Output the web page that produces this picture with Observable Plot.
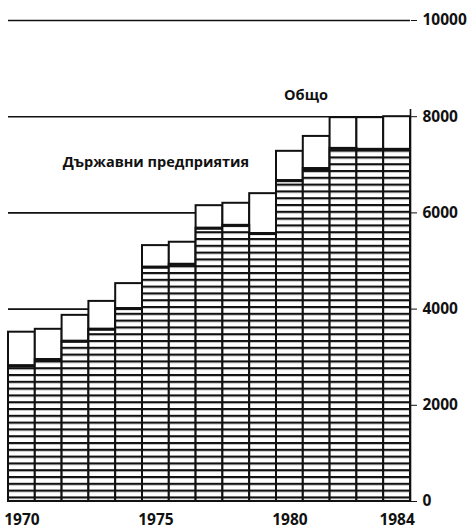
<!DOCTYPE html>
<html>
<head>
<meta charset="utf-8">
<script src="https://cdn.jsdelivr.net/npm/d3@7"></script>
<script src="https://cdn.jsdelivr.net/npm/@observablehq/plot@0.6"></script>
<style>
  html, body { margin: 0; padding: 0; background: #fff; }
  #chart svg { display: block; }
</style>
</head>
<body>
<div id="chart"></div>
<script>
const years = [1970, 1971, 1972, 1973, 1974, 1975, 1976, 1977, 1978, 1979, 1980, 1981, 1982, 1983, 1984];
const totalValues = [3520, 3580, 3870, 4160, 4530, 5320, 5390, 6150, 6200, 6400, 7280, 7590, 7980, 7980, 8000];
const stateValues = [2820, 2950, 3330, 3580, 4010, 4870, 4930, 5680, 5740, 5570, 6670, 6920, 7340, 7320, 7320];
const yTicks = [0, 2000, 4000, 6000, 8000, 10000];
const gridValues = [4000, 6000, 8000, 10000];
const yearLabels = [1970, 1975, 1980, 1984];
const labelTotal = "Общо";
const labelState = "Държавни предприятия";

const data = years.map((year, i) => ({year, total: totalValues[i], state: stateValues[i]}));
const font = "'Open Sans', 'Liberation Sans', Arial, sans-serif";

const chart = Plot.plot({
  width: 467,
  height: 529,
  marginLeft: 8,
  marginRight: 57,
  marginTop: 20,
  marginBottom: 28,
  style: {fontFamily: font, fontSize: "15px", fontWeight: 700, color: "#111", background: "#fff"},
  x: {domain: [1969.5, 1984.5]},
  y: {domain: [0, 10000]},
  marks: [
    Plot.ruleY(gridValues, {stroke: "#111", strokeWidth: 1.6}),
    Plot.rect(data, {x1: d => d.year - 0.5, x2: d => d.year + 0.5, y1: 0, y2: "total", fill: "#fff", stroke: "#111", strokeWidth: 2}),
    Plot.rect(data, {x1: d => d.year - 0.5, x2: d => d.year + 0.5, y1: 0, y2: "state", fill: "url(#hatch)", stroke: "#111", strokeWidth: 2}),
    Plot.ruleY(data, {y: "state", x1: d => d.year - 0.5, x2: d => d.year + 0.5, stroke: "#111", strokeWidth: 3}),
    Plot.ruleX([1984.5], {y1: 0, y2: 8150, stroke: "#111", strokeWidth: 1.6}),
    Plot.axisY({anchor: "right", ticks: yTicks, tickSize: 6, tickPadding: 6, label: null, tickFormat: d => String(d), fontSize: 15.5, fontWeight: 700}),
    Plot.axisX({anchor: "bottom", ticks: yearLabels, tickSize: 0, tickPadding: 12, label: null, tickFormat: d => String(d), fontSize: 15.5, fontWeight: 700}),
    Plot.text([labelTotal], {x: 1980.6, y: 8450, text: d => d, fontSize: 14.5, fontWeight: 700, fill: "#111"}),
    Plot.text([labelState], {x: 1975.0, y: 7050, text: d => d, fontSize: 14.5, fontWeight: 700, fill: "#111"})
  ]
});

const svg = d3.select(chart);
const defs = svg.insert("defs", ":first-child");
const pat = defs.append("pattern")
  .attr("id", "hatch")
  .attr("patternUnits", "userSpaceOnUse")
  .attr("width", 10)
  .attr("height", 6.8);
pat.append("rect").attr("width", 10).attr("height", 6.8).attr("fill", "#fff");
pat.append("rect").attr("y", 0).attr("width", 10).attr("height", 2.2).attr("fill", "#111");

document.getElementById("chart").appendChild(chart);
</script>
</body>
</html>
